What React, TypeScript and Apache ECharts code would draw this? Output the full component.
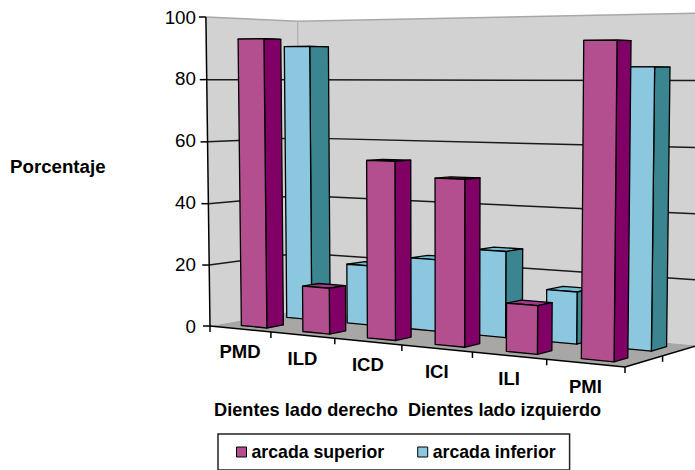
import React, { useEffect, useRef } from "react";
import * as echarts from "echarts";

const categories = ["PMD", "ILD", "ICD", "ICI", "ILI", "PMI"];
const superior = [93, 14.6, 55.3, 50.6, 14.4, 91.3];
const inferior = [91, 19.5, 23, 27, 16, 84];
const ticks = [0, 20, 40, 60, 80, 100];

const FONT = '"Liberation Sans", Arial, sans-serif';

// Projective camera of the 3-D plot: u along categories, w depth, v height (all 0..1)
const G = -0.14, H = 0.07, CZ = -0.017;
const FL = [210, 326], FR = [625, 367], BL = [300, 310];
const CX = -7.6, CY = -309.3;
const project = (u: number, w: number, v: number): number[] => {
  const d1 = 1 + G, d3 = 1 + H;
  const ax = FR[0] * d1 - FL[0], ay = FR[1] * d1 - FL[1];
  const bx = BL[0] * d3 - FL[0], by = BL[1] * d3 - FL[1];
  const den = 1 + G * u + H * w + CZ * v;
  return [(FL[0] + ax * u + bx * w + CX * v) / den, (FL[1] + ay * u + by * w + CY * v) / den];
};

const poly = (points: number[][], style: any, z2 = 0) => ({ type: "polygon", shape: { points }, style, z2 });
const line = (a: number[], b: number[], stroke: string, lineWidth: number) => ({
  type: "line",
  shape: { x1: a[0], y1: a[1], x2: b[0], y2: b[1] },
  style: { stroke, lineWidth, fill: "none" },
});

const barRender = (w0: number, w1: number, front: string, side: string, top: string) => (params: any, api: any) => {
  const cs = params.coordSys;
  const [px, py] = api.coord([api.value(0), api.value(1)]);
  const band = api.size([1, 0])[0];
  const c = (px - cs.x) / cs.width;
  const bw = band / cs.width;
  const u0 = c + (0.31 - 0.5) * bw;
  const u1 = c + (0.73 - 0.5) * bw;
  const v = (cs.y + cs.height - py) / cs.height;
  const s = (fill: string) => ({ fill, stroke: "#000", lineWidth: 1.3, lineJoin: "round" });
  return {
    type: "group",
    children: [
      poly([project(u0, w0, v), project(u1, w0, v), project(u1, w1, v), project(u0, w1, v)], s(top)),
      poly([project(u1, w0, 0), project(u1, w1, 0), project(u1, w1, v), project(u1, w0, v)], s(side)),
      poly([project(u0, w0, 0), project(u1, w0, 0), project(u1, w0, v), project(u0, w0, v)], s(front)),
    ],
  };
};

const decorRender = (params: any, api: any) => {
  const cs = params.coordSys;
  const wall = "#d3d2d2";
  const children: any[] = [
    poly([project(0, 0, 0), project(0, 1, 0), project(0, 1, 1), project(0, 0, 1)], { fill: wall }),
    poly([project(0, 1, 0), project(1, 1, 0), project(1, 1, 1), project(0, 1, 1)], { fill: wall }),
    poly([project(0, 0, 0), project(1, 0, 0), project(1, 1, 0), project(0, 1, 0)], { fill: "#a9a7a6" }),
  ];
  ticks.forEach((t) => {
    const v = (cs.y + cs.height - api.coord([0, t])[1]) / cs.height;
    const a = project(0, 0, v);
    const stroke = t === 100 ? "#a8a8a8" : "#1a1a1a";
    if (t > 0) {
      children.push(line(a, project(0, 1, v), stroke, 1.5));
      children.push(line(project(0, 1, v), project(1, 1, v), stroke, 1.5));
    }
    children.push(line([a[0] - 7, a[1]], a, "#000", 1.5));
  });
  children.push(line(project(0, 1, 0), project(0, 1, 1), "#a8a8a8", 1));
  children.push(line(project(0, 0, 0), project(0, 0, 1), "#000", 1.5));
  children.push(line(project(0, 0, 0), project(1, 0, 0), "#000", 1.5));
  children.push(line(project(1, 0, 0), project(1, 1, 0), "#000", 1.5));
  categories.forEach((_, i) => {
    const p = project(i / categories.length, 0, 0);
    children.push(line(p, [p[0], p[1] + 6], "#000", 1.5));
  });
  const p = project(1, 0, 0);
  children.push(line(p, [p[0], p[1] + 6], "#000", 1.5));
  const q = project(1, 0.5, 0);
  children.push(line(q, [q[0], q[1] + 6], "#000", 1.5));
  return { type: "group", children };
};

const labelRender = (params: any, api: any) => {
  const cs = params.coordSys;
  const [px] = api.coord([api.value(0), 0]);
  const p = project((px - cs.x) / cs.width, 0, 0);
  return {
    type: "text",
    x: p[0],
    y: p[1] + 23,
    style: {
      text: categories[api.value(0)],
      font: `bold 18.5px ${FONT}`,
      fill: "#000",
      align: "center",
      verticalAlign: "middle",
    },
  };
};

export default function App() {
  const ref = useRef<HTMLDivElement>(null);
  useEffect(() => {
    document.body.style.margin = "0";
    const chart = echarts.init(ref.current!, undefined, { renderer: "svg" });
    chart.setOption({
      animation: false,
      backgroundColor: "#fff",
      grid: { left: 208, top: 17, width: 400, height: 309 },
      xAxis: { type: "category", data: categories, show: false },
      yAxis: {
        type: "value",
        min: 0,
        max: 100,
        interval: 20,
        axisLine: { show: false },
        axisTick: { show: false },
        splitLine: { show: false },
        axisLabel: { color: "#000", fontFamily: FONT, fontSize: 18.8, margin: 12 },
      },
      legend: {
        left: 218,
        top: 434,
        padding: [9, 14, 9, 18],
        orient: "horizontal",
        itemGap: 33,
        itemWidth: 10,
        itemHeight: 10,
        borderColor: "#222",
        borderWidth: 1.5,
        borderRadius: 0,
        textStyle: { fontFamily: FONT, fontSize: 17.7, fontWeight: "bold", color: "#000" },
        data: [
          { name: "arcada superior", icon: "rect", itemStyle: { color: "#b34f8f", borderColor: "#000", borderWidth: 1 } },
          { name: "arcada inferior", icon: "rect", itemStyle: { color: "#8bc8e0", borderColor: "#000", borderWidth: 1 } },
        ],
      },
      graphic: [
        { type: "text", x: 10, y: 166, style: { text: "Porcentaje", font: `bold 18.7px ${FONT}`, fill: "#000", verticalAlign: "middle" } },
        { type: "text", x: 214, y: 410, style: { text: "Dientes lado derecho", font: `bold 18.2px ${FONT}`, fill: "#000", verticalAlign: "middle" } },
        { type: "text", x: 408, y: 410, style: { text: "Dientes lado izquierdo", font: `bold 18.1px ${FONT}`, fill: "#000", verticalAlign: "middle" } },
      ],
      series: [
        { type: "custom", name: "decor", silent: true, z: 1, clip: false, renderItem: decorRender, data: [[0, 0]], encode: { x: 0, y: 1 } },
        { type: "custom", name: "labels", silent: true, z: 1, clip: false, renderItem: labelRender, data: categories.map((_, i) => [i, 0]), encode: { x: 0, y: 1 } },
        {
          type: "custom",
          name: "arcada inferior",
          z: 2,
          clip: false,
          itemStyle: { color: "#8bc8e0" },
          renderItem: barRender(0.635, 0.85, "#8bc8e0", "#3a8590", "#6ebfd2"),
          data: inferior.map((v, i) => [i, v]),
          encode: { x: 0, y: 1 },
        },
        {
          type: "custom",
          name: "arcada superior",
          z: 3,
          clip: false,
          itemStyle: { color: "#b34f8f" },
          renderItem: barRender(0.135, 0.315, "#b34f8f", "#800066", "#a03a88"),
          data: superior.map((v, i) => [i, v]),
          encode: { x: 0, y: 1 },
        },
      ],
    });
    return () => chart.dispose();
  }, []);
  return <div ref={ref} style={{ width: 695, height: 470 }} />;
}
